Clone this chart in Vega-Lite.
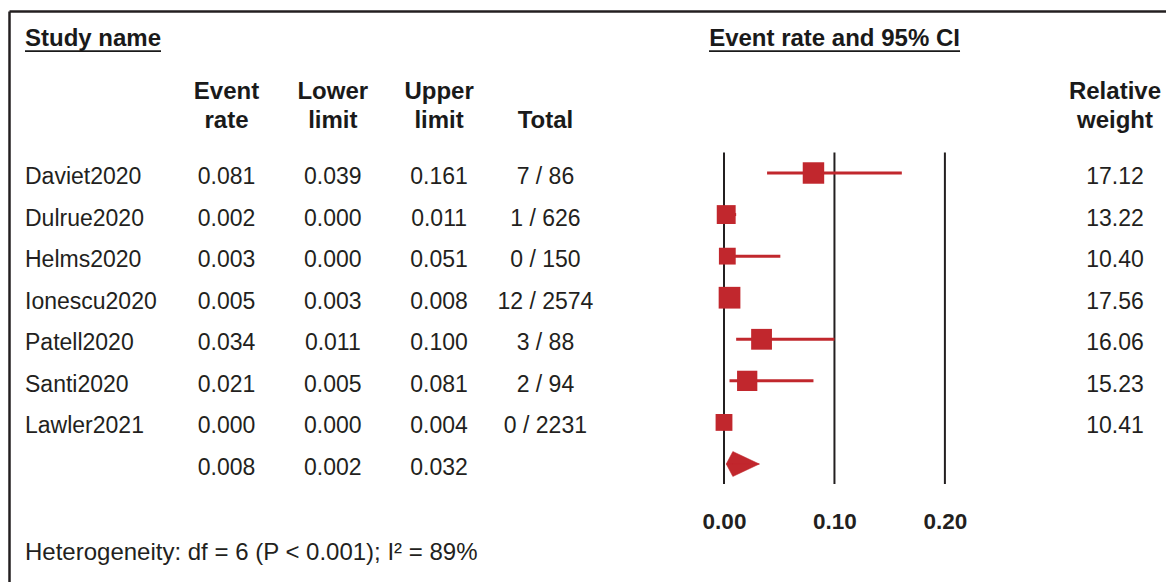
{
  "$schema": "https://vega.github.io/schema/vega-lite/v6.json",
  "width": 1157,
  "height": 571,
  "autosize": {"type": "none"},
  "padding": {"left": 9, "top": 11, "right": 0, "bottom": 0},
  "background": "white",
  "config": {
    "view": {"stroke": null},
    "font": "Liberation Sans",
    "text": {"font": "Liberation Sans", "color": "#231f20"}
  },
  "datasets": {
    "studies": [
      {"study": "Daviet2020", "rate": 0.081, "lower": 0.039, "upper": 0.161, "total": "7 / 86", "weight": 17.12},
      {"study": "Dulrue2020", "rate": 0.002, "lower": 0.000, "upper": 0.011, "total": "1 / 626", "weight": 13.22},
      {"study": "Helms2020", "rate": 0.003, "lower": 0.000, "upper": 0.051, "total": "0 / 150", "weight": 10.40},
      {"study": "Ionescu2020", "rate": 0.005, "lower": 0.003, "upper": 0.008, "total": "12 / 2574", "weight": 17.56},
      {"study": "Patell2020", "rate": 0.034, "lower": 0.011, "upper": 0.100, "total": "3 / 88", "weight": 16.06},
      {"study": "Santi2020", "rate": 0.021, "lower": 0.005, "upper": 0.081, "total": "2 / 94", "weight": 15.23},
      {"study": "Lawler2021", "rate": 0.000, "lower": 0.000, "upper": 0.004, "total": "0 / 2231", "weight": 10.41},
      {"study": "Pooled", "rate": 0.008, "lower": 0.002, "upper": 0.032, "total": "", "weight": null}
    ],
    "diamond": [
      {"x": 0.002, "h": 0},
      {"x": 0.008, "h": 1},
      {"x": 0.032, "h": 0}
    ],
    "refs": [{"tick": 0}, {"tick": 0.1}, {"tick": 0.2}],
    "headers": [
      {"col": "name", "row": "title", "label": "Study name"},
      {"col": "forest", "row": "title", "label": "Event rate and 95% CI"},
      {"col": "rate", "row": "top", "label": "Event\nrate"},
      {"col": "lower", "row": "top", "label": "Lower\nlimit"},
      {"col": "upper", "row": "top", "label": "Upper\nlimit"},
      {"col": "total", "row": "bottom", "label": "Total"},
      {"col": "weight", "row": "top", "label": "Relative\nweight"}
    ],
    "footer": [{"note": "Heterogeneity: df = 6 (P < 0.001); I² = 89%"}]
  },
  "layer": [
    {
      "data": {"name": "refs"},
      "mark": {"type": "rule", "color": "#231f20", "strokeWidth": 2, "yOffset": -20.5, "y2Offset": 20},
      "encoding": {
        "x": {"field": "tick", "type": "quantitative",
          "scale": {"type": "linear", "domain": [-0.64735, 0.40018], "nice": false, "zero": false},
          "axis": {"orient": "bottom", "values": [0, 0.1, 0.2], "format": ".2f", "labelFont": "Liberation Sans", "labelFontWeight": "bold", "labelFontSize": 22.5, "labelColor": "#231f20", "labelPadding": 0, "tickSize": 0, "ticks": false, "domain": false, "grid": false, "title": null, "offset": -72, "labelFlush": false, "labelOverlap": false}},
        "y": {"datum": "Daviet2020", "type": "nominal",
          "scale": {"type": "point", "domain": ["Daviet2020","Dulrue2020","Helms2020","Ionescu2020","Patell2020","Santi2020","Lawler2021","Pooled"], "range": [162, 453], "padding": 0},
          "axis": null},
        "y2": {"datum": "Pooled"}
      }
    },
    {
      "data": {"name": "studies"},
      "transform": [{"filter": "datum.weight != null"}],
      "mark": {"type": "rule", "color": "#c1272d", "strokeWidth": 3},
      "encoding": {
        "x": {"field": "lower", "type": "quantitative", "scale": {"type": "linear", "domain": [-0.64735, 0.40018], "nice": false, "zero": false}, "axis": null},
        "x2": {"field": "upper"},
        "y": {"field": "study", "type": "nominal", "scale": {"type": "point", "domain": ["Daviet2020","Dulrue2020","Helms2020","Ionescu2020","Patell2020","Santi2020","Lawler2021","Pooled"], "range": [162, 453], "padding": 0}, "axis": null}
      }
    },
    {
      "data": {"name": "studies"},
      "transform": [{"filter": "datum.weight != null"}],
      "mark": {"type": "square", "filled": true, "color": "#c1272d", "opacity": 1},
      "encoding": {
        "x": {"field": "rate", "type": "quantitative", "scale": {"type": "linear", "domain": [-0.64735, 0.40018], "nice": false, "zero": false}, "axis": null},
        "y": {"field": "study", "type": "nominal", "scale": {"type": "point", "domain": ["Daviet2020","Dulrue2020","Helms2020","Ionescu2020","Patell2020","Santi2020","Lawler2021","Pooled"], "range": [162, 453], "padding": 0}, "axis": null},
        "size": {"field": "weight", "type": "quantitative", "scale": {"domain": [10, 18], "range": [272, 484], "zero": false}, "legend": null}
      }
    },
    {
      "data": {"name": "diamond"},
      "mark": {"type": "area", "orient": "vertical", "color": "#c1272d", "opacity": 1, "stroke": "#c1272d", "strokeWidth": 0.5},
      "encoding": {
        "x": {"field": "x", "type": "quantitative", "scale": {"type": "linear", "domain": [-0.64735, 0.40018], "nice": false, "zero": false}, "axis": null},
        "y": {"field": "h", "type": "quantitative", "scale": {"domain": [-9.44, 36.24], "nice": false, "zero": false}, "axis": null},
        "y2": {"datum": 0}
      }
    },
    {
      "data": {"name": "diamond"},
      "mark": {"type": "area", "orient": "vertical", "color": "#c1272d", "opacity": 1, "stroke": "#c1272d", "strokeWidth": 0.5},
      "encoding": {
        "x": {"field": "x", "type": "quantitative", "scale": {"type": "linear", "domain": [-0.64735, 0.40018], "nice": false, "zero": false}, "axis": null},
        "y": {"field": "h", "type": "quantitative", "scale": {"domain": [-36.24, 9.44], "reverse": true, "nice": false, "zero": false}, "axis": null},
        "y2": {"datum": 0}
      }
    },
    {
      "data": {"name": "studies"},
      "transform": [{"filter": "datum.study != 'Pooled'"}],
      "mark": {"type": "text", "align": "left", "baseline": "middle", "dy": 4, "fontSize": 23, "color": "#231f20"},
      "encoding": {
        "x": {"datum": "name", "type": "nominal", "scale": {"type": "point", "domain": ["name"], "padding": 0.5, "align": 0.01383}, "axis": null},
        "y": {"field": "study", "type": "nominal", "scale": {"type": "point", "domain": ["Daviet2020","Dulrue2020","Helms2020","Ionescu2020","Patell2020","Santi2020","Lawler2021","Pooled"], "range": [162, 453], "padding": 0}, "axis": null},
        "text": {"field": "study", "type": "nominal"}
      }
    },
    {
      "data": {"name": "studies"},
      "transform": [{"fold": ["rate", "lower", "upper"], "as": ["key", "val"]}],
      "mark": {"type": "text", "align": "center", "baseline": "middle", "dy": 4, "fontSize": 23, "color": "#231f20"},
      "encoding": {
        "x": {"field": "key", "type": "nominal", "scale": {"type": "point", "domain": ["rate", "lower", "upper", "total"], "range": [217.5, 536.4], "padding": 0}, "axis": null},
        "y": {"field": "study", "type": "nominal", "scale": {"type": "point", "domain": ["Daviet2020","Dulrue2020","Helms2020","Ionescu2020","Patell2020","Santi2020","Lawler2021","Pooled"], "range": [162, 453], "padding": 0}, "axis": null},
        "text": {"field": "val", "type": "quantitative", "format": ".3f"}
      }
    },
    {
      "data": {"name": "studies"},
      "transform": [{"filter": "datum.total != ''"}],
      "mark": {"type": "text", "align": "center", "baseline": "middle", "dy": 4, "fontSize": 23, "color": "#231f20"},
      "encoding": {
        "x": {"datum": "total", "type": "nominal", "scale": {"type": "point", "domain": ["rate", "lower", "upper", "total"], "range": [217.5, 536.4], "padding": 0}, "axis": null},
        "y": {"field": "study", "type": "nominal", "scale": {"type": "point", "domain": ["Daviet2020","Dulrue2020","Helms2020","Ionescu2020","Patell2020","Santi2020","Lawler2021","Pooled"], "range": [162, 453], "padding": 0}, "axis": null},
        "text": {"field": "total", "type": "nominal"}
      }
    },
    {
      "data": {"name": "studies"},
      "transform": [{"filter": "datum.weight != null"}],
      "mark": {"type": "text", "align": "center", "baseline": "middle", "dy": 4, "fontSize": 23, "color": "#231f20"},
      "encoding": {
        "x": {"datum": "weight", "type": "nominal", "scale": {"type": "point", "domain": ["weight"], "padding": 0.5, "align": 0.9559},
          "axis": {"orient": "top", "domain": true, "domainColor": "#231f20", "domainWidth": 2.5, "labels": false, "ticks": false, "grid": false, "title": null}},
        "y": {"field": "study", "type": "nominal", "scale": {"type": "point", "domain": ["Daviet2020","Dulrue2020","Helms2020","Ionescu2020","Patell2020","Santi2020","Lawler2021","Pooled"], "range": [162, 453], "padding": 0}, "axis": null},
        "text": {"field": "weight", "type": "quantitative", "format": ".2f"}
      }
    },
    {
      "data": {"name": "headers"},
      "transform": [{"filter": "datum.col == 'name'"}],
      "mark": {"type": "text", "align": "left", "baseline": "alphabetic", "lineBreak": "\n", "lineHeight": 29.3, "fontSize": 24, "fontWeight": "bold", "color": "#1a1a1a"},
      "encoding": {
        "x": {"field": "col", "type": "nominal", "scale": {"type": "point", "domain": ["name"], "padding": 0.5, "align": 0.01383}, "axis": null},
        "y": {"field": "row", "type": "nominal", "scale": {"type": "point", "domain": ["title"], "range": [34.7, 34.7], "padding": 0}, "axis": null},
        "text": {"field": "label", "type": "nominal"}
      }
    },
    {
      "data": {"name": "headers"},
      "transform": [{"filter": "datum.col == 'name'"}],
      "mark": {"type": "tick", "orient": "horizontal", "size": 136, "thickness": 1.8, "xOffset": 68, "yOffset": 5.5, "color": "#1a1a1a", "opacity": 1},
      "encoding": {
        "x": {"field": "col", "type": "nominal", "scale": {"type": "point", "domain": ["name"], "padding": 0.5, "align": 0.01383}, "axis": null},
        "y": {"field": "row", "type": "nominal", "scale": {"type": "point", "domain": ["title"], "range": [34.7, 34.7], "padding": 0}, "axis": null}
      }
    },
    {
      "data": {"name": "headers"},
      "transform": [{"filter": "datum.col == 'forest'"}],
      "mark": {"type": "text", "align": "center", "baseline": "alphabetic", "lineBreak": "\n", "lineHeight": 29.3, "fontSize": 24, "fontWeight": "bold", "color": "#1a1a1a"},
      "encoding": {
        "x": {"field": "col", "type": "nominal", "scale": {"type": "point", "domain": ["forest"], "padding": 0.5, "align": 0.7135}, "axis": null},
        "y": {"field": "row", "type": "nominal", "scale": {"type": "point", "domain": ["title"], "range": [34.7, 34.7], "padding": 0}, "axis": null},
        "text": {"field": "label", "type": "nominal"}
      }
    },
    {
      "data": {"name": "headers"},
      "transform": [{"filter": "datum.col == 'forest'"}],
      "mark": {"type": "tick", "orient": "horizontal", "size": 251, "thickness": 1.8, "yOffset": 5.5, "color": "#1a1a1a", "opacity": 1},
      "encoding": {
        "x": {"field": "col", "type": "nominal", "scale": {"type": "point", "domain": ["forest"], "padding": 0.5, "align": 0.7135}, "axis": null},
        "y": {"field": "row", "type": "nominal", "scale": {"type": "point", "domain": ["title"], "range": [34.7, 34.7], "padding": 0}, "axis": null}
      }
    },
    {
      "data": {"name": "headers"},
      "transform": [{"filter": {"field": "col", "oneOf": ["rate", "lower", "upper", "total"]}}],
      "mark": {"type": "text", "align": "center", "baseline": "alphabetic", "lineBreak": "\n", "lineHeight": 29.3, "fontSize": 24, "fontWeight": "bold", "color": "#1a1a1a"},
      "encoding": {
        "x": {"field": "col", "type": "nominal", "scale": {"type": "point", "domain": ["rate", "lower", "upper", "total"], "range": [217.5, 536.4], "padding": 0}, "axis": null},
        "y": {"field": "row", "type": "nominal", "scale": {"type": "point", "domain": ["top", "bottom"], "range": [88, 117.3], "padding": 0}, "axis": null},
        "text": {"field": "label", "type": "nominal"}
      }
    },
    {
      "data": {"name": "headers"},
      "transform": [{"filter": "datum.col == 'weight'"}],
      "mark": {"type": "text", "align": "center", "baseline": "alphabetic", "lineBreak": "\n", "lineHeight": 29.3, "fontSize": 24, "fontWeight": "bold", "color": "#1a1a1a"},
      "encoding": {
        "x": {"field": "col", "type": "nominal", "scale": {"type": "point", "domain": ["weight"], "padding": 0.5, "align": 0.9559}, "axis": null},
        "y": {"field": "row", "type": "nominal", "scale": {"type": "point", "domain": ["top", "bottom"], "range": [88, 117.3], "padding": 0}, "axis": null},
        "text": {"field": "label", "type": "nominal"}
      }
    },
    {
      "data": {"name": "footer"},
      "mark": {"type": "text", "align": "left", "baseline": "alphabetic", "fontSize": 24, "color": "#231f20"},
      "encoding": {
        "x": {"datum": "name", "type": "nominal", "scale": {"type": "point", "domain": ["name"], "padding": 0.5, "align": 0.01383}, "axis": null},
        "y": {"datum": "footer", "type": "nominal", "scale": {"type": "point", "domain": ["footer"], "padding": 0.5, "align": 0.9615},
          "axis": {"orient": "left", "domain": true, "domainColor": "#231f20", "domainWidth": 2.5, "labels": false, "ticks": false, "grid": false, "title": null}},
        "text": {"field": "note", "type": "nominal"}
      }
    }
  ],
  "resolve": {
    "scale": {"x": "independent", "y": "independent", "size": "independent"},
    "axis": {"x": "independent", "y": "independent"}
  }
}
